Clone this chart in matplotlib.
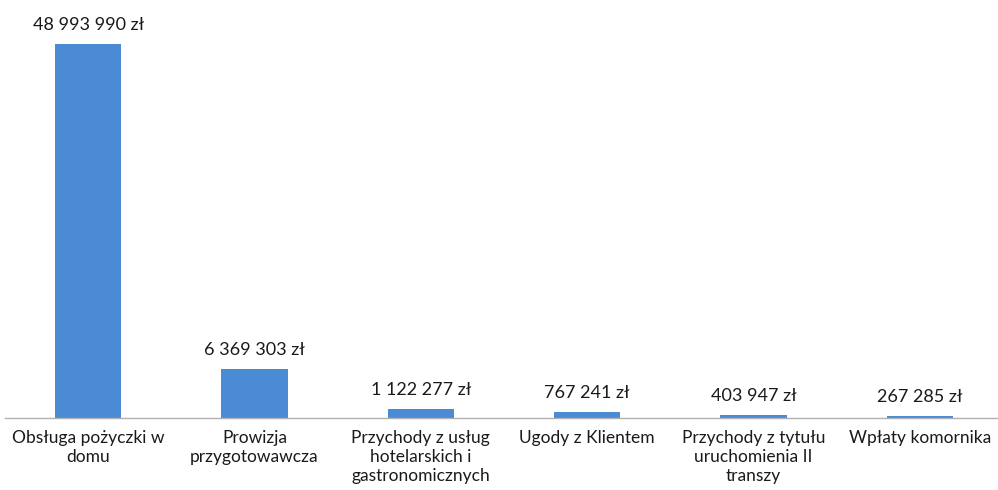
import matplotlib.pyplot as plt

# dane
kategorie = [
    "Obsługa pożyczki w\ndomu",
    "Prowizja\nprzygotowawcza",
    "Przychody z usług\nhotelarskich i\ngastronomicznych",
    "Ugody z Klientem",
    "Przychody z tytułu\nuruchomienia II\ntranszy",
    "Wpłaty komornika",
]
wartosci = [48993990, 6369303, 1122277, 767241, 403947, 267285]
etykiety = ["48 993 990 zł", "6 369 303 zł", "1 122 277 zł",
            "767 241 zł", "403 947 zł", "267 285 zł"]

plt.rcParams["font.family"] = ["Lato", "DejaVu Sans"]

fig = plt.figure(figsize=(9.98, 4.9), dpi=100)
ax = fig.add_axes([0.005, 0.147, 1.0, 0.833])

x = range(len(kategorie))
ax.bar(x, wartosci, width=0.4, color="#4a8bd3")

for i, (v, t) in enumerate(zip(wartosci, etykiety)):
    ax.annotate(t, (i, v), xytext=(0, 8), textcoords="offset points",
                ha="center", va="bottom", fontsize=13, color="#1a1a1a")

ax.set_xlim(-0.5, 5.5)
ax.set_ylim(0, 53.45e6)
ax.set_xticks(list(x))
ax.set_xticklabels(kategorie, fontsize=12.5, color="#1a1a1a", linespacing=1.2)
ax.tick_params(axis="x", length=0, pad=9)
ax.set_yticks([])

for s in ["top", "right", "left"]:
    ax.spines[s].set_visible(False)
ax.spines["bottom"].set_color("#b0b0b0")
ax.spines["bottom"].set_linewidth(1)

fig.savefig("out.png", dpi=100)
